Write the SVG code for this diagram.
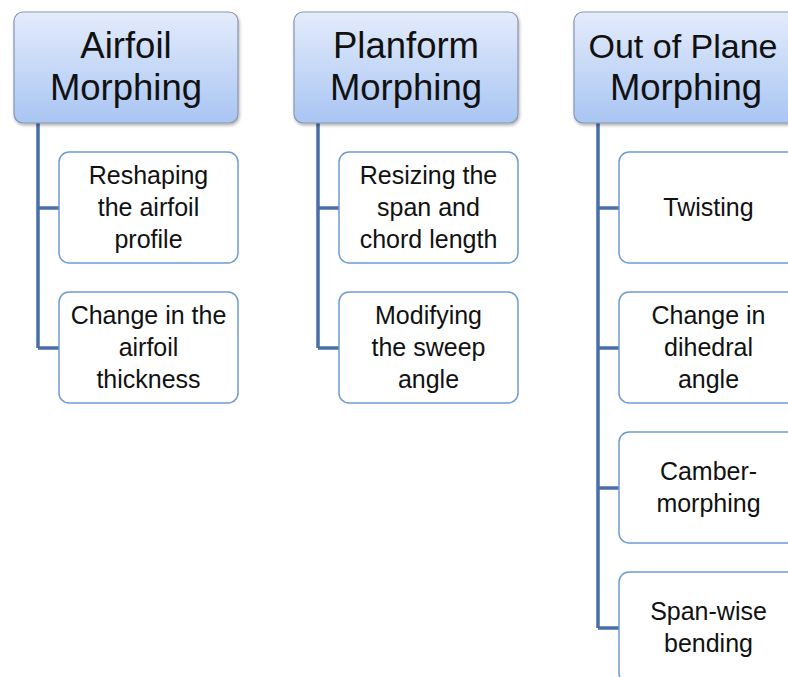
<svg xmlns="http://www.w3.org/2000/svg" width="788" height="677" viewBox="0 0 788 677">
<defs>
<linearGradient id="hg" x1="0" y1="0" x2="0" y2="1">
<stop offset="0" stop-color="#e4ecfb"/>
<stop offset="1" stop-color="#a9c5f3"/>
</linearGradient>
<filter id="sh" x="-10%" y="-10%" width="120%" height="130%">
<feDropShadow dx="1" dy="2" stdDeviation="1.5" flood-color="#000" flood-opacity="0.3"/>
</filter>
</defs>
<style>
.hdr{fill:url(#hg);stroke:#8796ad;stroke-width:1.2;filter:url(#sh)}
.ch{fill:#fff;stroke:#6f9bd3;stroke-width:1.5}
.ht{font-family:"Liberation Sans",Arial,sans-serif;font-size:36.5px;fill:#111;text-anchor:middle}
.ct{font-family:"Liberation Sans",Arial,sans-serif;font-size:25px;fill:#111;text-anchor:middle}
.cn{fill:none;stroke:#4a6ea6;stroke-width:3.5}
</style>
<rect width="788" height="677" fill="#fff"/>
<g id="connectors">
<path class="cn" d="M38 123V348M38 208H59M38 348H59"/>
<path class="cn" d="M318 123V348M318 208H339M318 348H339"/>
<path class="cn" d="M598 123V628M598 208H619M598 348H619M598 488H619M598 628H619"/>
</g>
<g id="h1"><rect class="hdr" x="14" y="12" width="224" height="111" rx="9"/><text class="ht" x="126" y="58">Airfoil</text><text class="ht" x="126" y="100">Morphing</text></g>
<g id="h2"><rect class="hdr" x="294" y="12" width="224" height="111" rx="9"/><text class="ht" x="406" y="58">Planform</text><text class="ht" x="406" y="100">Morphing</text></g>
<g id="h3"><rect class="hdr" x="574" y="12" width="224" height="111" rx="9"/><text class="ht" x="683" y="58" style="font-size:34px">Out of Plane</text><text class="ht" x="686" y="100">Morphing</text></g>
<g id="c11"><rect class="ch" x="59" y="152" width="179" height="111" rx="10"/><text class="ct" x="148.5" y="184">Reshaping</text><text class="ct" x="148.5" y="216">the airfoil</text><text class="ct" x="148.5" y="248">profile</text></g>
<g id="c12"><rect class="ch" x="59" y="292" width="179" height="111" rx="10"/><text class="ct" x="148.5" y="324">Change in the</text><text class="ct" x="148.5" y="356">airfoil</text><text class="ct" x="148.5" y="388">thickness</text></g>
<g id="c21"><rect class="ch" x="339" y="152" width="179" height="111" rx="10"/><text class="ct" x="428.5" y="184">Resizing the</text><text class="ct" x="428.5" y="216">span and</text><text class="ct" x="428.5" y="248">chord length</text></g>
<g id="c22"><rect class="ch" x="339" y="292" width="179" height="111" rx="10"/><text class="ct" x="428.5" y="324">Modifying</text><text class="ct" x="428.5" y="356">the sweep</text><text class="ct" x="428.5" y="388">angle</text></g>
<g id="c31"><rect class="ch" x="619" y="152" width="179" height="111" rx="10"/><text class="ct" x="708.5" y="216">Twisting</text></g>
<g id="c32"><rect class="ch" x="619" y="292" width="179" height="111" rx="10"/><text class="ct" x="708.5" y="324">Change in</text><text class="ct" x="708.5" y="356">dihedral</text><text class="ct" x="708.5" y="388">angle</text></g>
<g id="c33"><rect class="ch" x="619" y="432" width="179" height="111" rx="10"/><text class="ct" x="708.5" y="480">Camber-</text><text class="ct" x="708.5" y="512">morphing</text></g>
<g id="c34"><rect class="ch" x="619" y="572" width="179" height="111" rx="10"/><text class="ct" x="708.5" y="620">Span-wise</text><text class="ct" x="708.5" y="652">bending</text></g>
</svg>
